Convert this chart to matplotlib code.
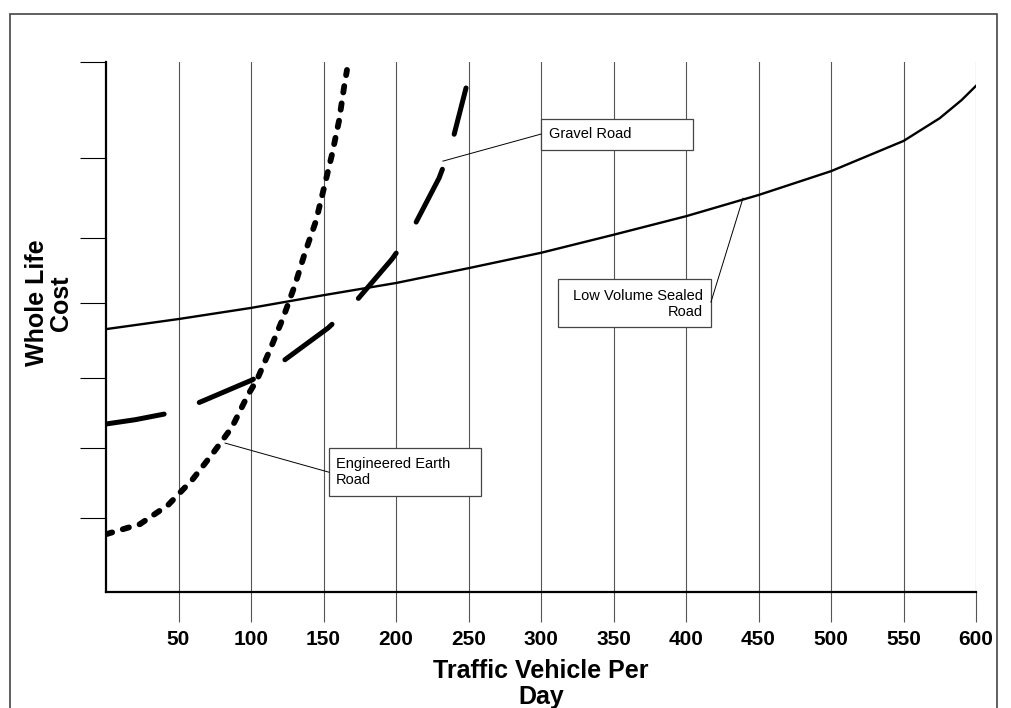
import matplotlib
matplotlib.use("Agg")
import matplotlib.pyplot as plt
from matplotlib.patches import Rectangle

plt.rcParams['font.family'] = ['Liberation Sans', 'DejaVu Sans']

# traffic (vehicles per day) and whole-life cost (arbitrary units 0-100)
sealed_x = [0, 50, 100, 150, 200, 250, 300, 350, 400, 450, 500, 550, 575, 590, 600]
sealed_y = [49.6, 51.5, 53.6, 56.0, 58.3, 61.1, 64.0, 67.4, 70.9, 74.9, 79.4, 85.1, 89.4, 92.8, 95.5]

gravel_x = [0, 20, 40.7, 62.1, 100.7, 119.3, 153.1, 170.3, 197.2, 210.3, 229.7, 237.9, 248.3]
gravel_y = [31.7, 32.5, 33.6, 35.5, 40.0, 43.0, 49.8, 54.2, 62.8, 67.9, 78.1, 84.0, 95.1]

earth_x = [0, 23.4, 42.8, 59.3, 73.8, 86.9, 97.9, 104.1, 113.1, 122.1, 130.3, 137.2,
           144.8, 150.3, 155.9, 160.7, 164.1, 166.2]
earth_y = [10.9, 12.8, 16.4, 21.1, 26.2, 31.1, 37.2, 40.0, 45.7, 51.7, 57.9, 64.0,
           70.0, 76.2, 82.6, 88.9, 95.1, 98.5]

x_ticks = [50, 100, 150, 200, 250, 300, 350, 400, 450, 500, 550, 600]
y_ticks = [14.0, 27.2, 40.4, 54.5, 66.8, 81.9, 100]

fig = plt.figure(figsize=(10.11, 7.08), dpi=100)
ax = fig.add_axes([106 / 1011, 1 - 592 / 708, 870 / 1011, 530 / 708])

# outer frame
fig.patches.append(Rectangle((10 / 1011, -0.1), 987 / 1011, 1.1 - 14 / 708,
                             transform=fig.transFigure, fill=False,
                             edgecolor='#444444', lw=1.2))

ax.set_xlim(0, 600)
ax.set_ylim(0, 100)

for x in x_ticks:
    ax.axvline(x, color='#555555', lw=0.8, zorder=1)

ax.plot(sealed_x, sealed_y, color='black', lw=1.7, zorder=3)
ax.plot(gravel_x, gravel_y, color='black', lw=3.6, dashes=(11.8, 7.4),
        dash_capstyle='round', zorder=3)
ax.plot(earth_x, earth_y, color='black', lw=4.2, dashes=(1.1, 1.9),
        dash_capstyle='round', zorder=3)

ax.set_xticks(x_ticks)
ax.set_xticklabels([str(v) for v in x_ticks], fontsize=15, fontweight='bold')
ax.set_yticks(y_ticks)
ax.set_yticklabels([])
ax.tick_params(axis='x', direction='out', length=21.5, width=0.8,
               color='#555555', pad=6)
ax.tick_params(axis='y', direction='out', length=18.7, width=0.8, color='black')

for s in ['top', 'right']:
    ax.spines[s].set_visible(False)
ax.spines['left'].set_linewidth(1.6)
ax.spines['bottom'].set_linewidth(1.6)

# annotation boxes
def note(x0, x1, y0, y1, text, tx, ty, ha, lx, ly, px, py):
    ax.add_patch(Rectangle((x0, y0), x1 - x0, y1 - y0, facecolor='white',
                           edgecolor='#444444', lw=0.9, zorder=4))
    ax.text(tx, ty, text, ha=ha, va='center', fontsize=10.5, zorder=5,
            linespacing=1.15, multialignment=ha)
    ax.plot([lx, px], [ly, py], color='black', lw=0.7, zorder=4)

note(300, 404.8, 83.4, 89.2, 'Gravel Road', 305.5, 86.4, 'left',
     300, 86.4, 232.4, 81.3)
note(311.7, 417.2, 50.0, 59.1, 'Low Volume Sealed\nRoad', 411.7, 54.4, 'right',
     417.2, 54.7, 439.3, 74.3)
note(153.8, 258.6, 18.1, 27.2, 'Engineered Earth\nRoad', 158.6, 22.6, 'left',
     153.8, 22.6, 82.1, 28.1)

fig.text(541 / 1011, 1 - 684 / 708, 'Traffic Vehicle Per\nDay', ha='center',
         va='center', fontsize=18, fontweight='bold', linespacing=1.15)
fig.text(49 / 1011, 1 - 303 / 708, 'Whole Life\nCost', ha='center', va='center',
         rotation=90, fontsize=18, fontweight='bold', linespacing=1.05,
         multialignment='center')

fig.savefig('out.png', dpi=100)
